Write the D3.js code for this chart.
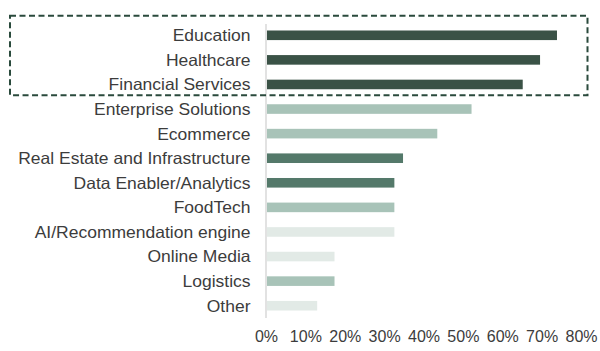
<!DOCTYPE html>
<html><head><meta charset="utf-8">
<script src="https://cdn.jsdelivr.net/npm/d3@7"></script>
<style>
html,body{margin:0;padding:0;background:#fff;}
text{font-family:"Liberation Sans",Arial,sans-serif;}
</style></head>
<body>
<svg id="c" width="600" height="351"></svg>
<script>
const categories = ["Education","Healthcare","Financial Services","Enterprise Solutions","Ecommerce","Real Estate and Infrastructure","Data Enabler/Analytics","FoodTech","AI/Recommendation engine","Online Media","Logistics","Other"];
const values = [0.739,0.696,0.652,0.522,0.435,0.348,0.326,0.326,0.326,0.174,0.174,0.130];
const colorGroups = ["dark","dark","dark","light","light","mid","mid","light","pale","pale","light","pale"];
const tickValues = [0,0.1,0.2,0.3,0.4,0.5,0.6,0.7,0.8];
const highlighted = ["Education","Healthcare","Financial Services"];

const palette = {dark:"#3a5246", mid:"#54796a", light:"#a8c3b8", pale:"#e2eae6"};
const svg = d3.select("#c");
svg.append("rect").attr("width",600).attr("height",351).attr("fill","#fff");

const x = d3.scaleLinear().domain([0,0.8]).range([266,581]);
const y = d3.scaleBand().domain(categories).range([23,318]).paddingInner(0.61).paddingOuter(0.305);

svg.selectAll("rect.bar").data(categories).enter().append("rect")
  .attr("class","bar")
  .attr("x",x(0)+1)
  .attr("y",d=>y(d))
  .attr("height",y.bandwidth())
  .attr("width",(d,i)=>x(values[i])-x(0)-1)
  .attr("fill",(d,i)=>palette[colorGroups[i]]);

svg.append("line").attr("x1",x(0)).attr("x2",x(0)).attr("y1",24).attr("y2",318)
  .attr("stroke","#d9d9d9").attr("stroke-width",1.5);

svg.selectAll("text.cat").data(categories).enter().append("text")
  .attr("class","cat")
  .attr("transform",d=>`translate(250.5,${y(d)+y.bandwidth()/2}) scale(1.06,1)`)
  .attr("dy","0.36em").attr("text-anchor","end")
  .attr("font-size","16.5px").attr("fill","#3c3c3c")
  .text(d=>d);

const xAxis = d3.axisBottom(x).tickValues(tickValues).tickFormat(d3.format(".0%")).tickSize(0).tickPadding(0);
const ax = svg.append("g").attr("transform","translate(0,331)").call(xAxis);
ax.select(".domain").remove();
ax.selectAll("text").attr("font-size","16px").attr("fill","#3c3c3c").attr("font-family","Liberation Sans, Arial, sans-serif");

const hl = highlighted.map(d=>y(d));
const gap = (y.step()-y.bandwidth())/2;
const boxTop = d3.min(hl) - gap - 7.3;
const boxBot = d3.max(hl) + y.bandwidth() + gap - 1.5;
svg.append("rect").attr("x",10).attr("y",boxTop).attr("width",577.5).attr("height",boxBot-boxTop)
  .attr("fill","none").attr("stroke","#2a4a3c").attr("stroke-width",2).attr("stroke-dasharray","6,3.5");
</script>
</body></html>
